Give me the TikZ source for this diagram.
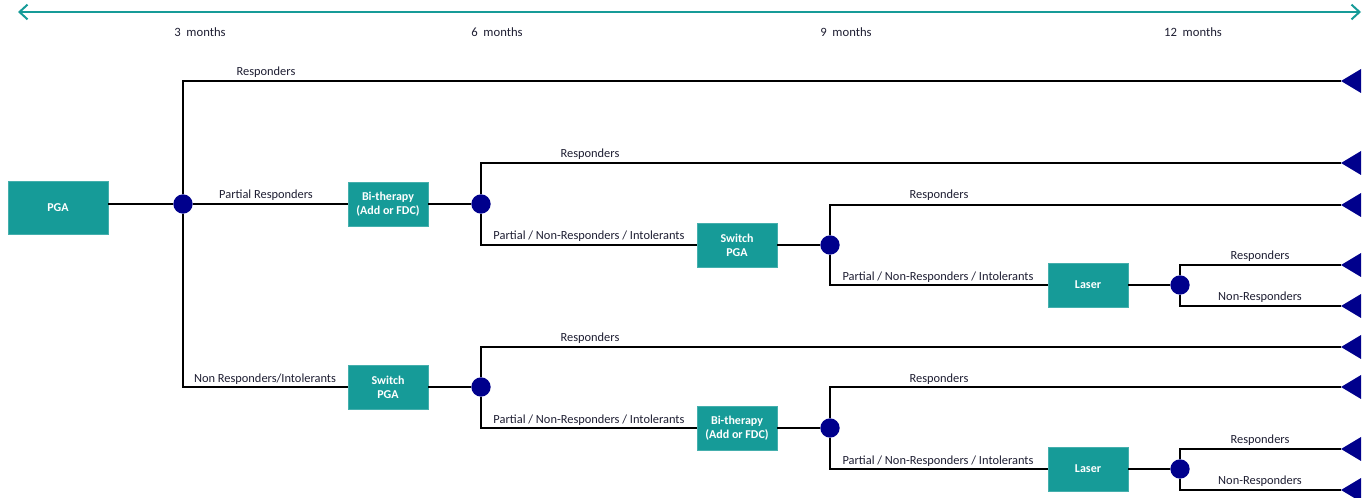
\documentclass[tikz,border=0pt]{standalone}
\usepackage{fontspec}
\setmainfont{Carlito}
\usetikzlibrary{arrows.meta}
\definecolor{tealbox}{RGB}{22,155,152}
\definecolor{navyc}{RGB}{0,0,140}
\definecolor{txtc}{RGB}{30,30,50}
\begin{document}
\begin{tikzpicture}[x=0.75pt,y=-0.75pt,
  box/.style={draw=tealbox!80!white,line width=0.6pt,fill=tealbox,text=white,font=\bfseries\fontsize{9}{10.5}\selectfont,align=center,inner sep=0pt,minimum width=60pt,minimum height=33pt},
  dot/.style={circle,fill=navyc,inner sep=0pt,minimum size=14.5pt},
  conn/.style={draw=black,line width=1.7pt},
  lbl/.style={font=\fontsize{9.3}{10}\selectfont,text=txtc,inner sep=0pt},
  mon/.style={font=\fontsize{9.5}{10}\selectfont,text=txtc,inner sep=0pt},
  tri/.style={fill=navyc}]
\useasboundingbox (0,0) rectangle (1364,498);
% time axis
\coordinate (tl) at (18,12);
\coordinate (tr) at (1361,12);
\draw[draw=tealbox,line width=1.5pt,{Straight Barb[length=6pt,width=11pt]}-{Straight Barb[length=6pt,width=11pt]}] (tl) -- (tr);
\node[mon] (m3) at (200,32) {3~ months};
\node[mon] (m6) at (497,32) {6~ months};
\node[mon] (m9) at (846,32) {9~ months};
\node[mon] (m12) at (1193,32) {12~ months};
% boxes
\node[box,minimum width=75pt,minimum height=40pt] (pga) at (58,208) {PGA};
\node[box] (bi1) at (388,204) {Bi-therapy\\(Add or FDC)};
\node[box] (sw1) at (737,245) {Switch\\PGA};
\node[box] (las1) at (1088,285) {Laser};
\node[box] (sw2) at (388,387) {Switch\\PGA};
\node[box] (bi2) at (737,428) {Bi-therapy\\(Add or FDC)};
\node[box] (las2) at (1088,469) {Laser};
% decision dots
\node[dot] (n1) at (183,204) {};
\node[dot] (n2) at (481,204) {};
\node[dot] (n3) at (830,245) {};
\node[dot] (n4) at (1180,285) {};
\node[dot] (n5) at (481,387) {};
\node[dot] (n6) at (830,428) {};
\node[dot] (n7) at (1180,469) {};
% end points
\foreach \i/\y in {1/81,2/163,3/205,4/265,5/306,6/347,7/387,8/449,9/490}{
  \coordinate (e\i) at (1341,\y);
  \fill[tri] (e\i) -- ++(20,-12) -- ++(0,24) -- cycle;
}
% connectors
\draw[conn] (n1 -| pga.east) -- (n1);
\draw[conn] (n1) |- (e1);
\draw[conn] (n1) -- (bi1);
\draw[conn] (n1) |- (sw2);
\draw[conn] (bi1) -- (n2);
\draw[conn] (n2) |- (e2);
\draw[conn] (n2) |- (sw1);
\draw[conn] (sw1) -- (n3);
\draw[conn] (n3) |- (e3);
\draw[conn] (n3) |- (las1);
\draw[conn] (las1) -- (n4);
\draw[conn] (n4) |- (e4);
\draw[conn] (n4) |- (e5);
\draw[conn] (sw2) -- (n5);
\draw[conn] (n5) |- (e6);
\draw[conn] (n5) |- (bi2);
\draw[conn] (bi2) -- (n6);
\draw[conn] (n6) |- (e7);
\draw[conn] (n6) |- (las2);
\draw[conn] (las2) -- (n7);
\draw[conn] (n7) |- (e8);
\draw[conn] (n7) |- (e9);
% labels
\node[lbl] at (266,72) {Responders};
\node[lbl] at (266,195) {Partial Responders};
\node[lbl] at (265,379) {Non Responders/Intolerants};
\node[lbl] at (590,154) {Responders};
\node[lbl] at (589,236) {Partial / Non-Responders / Intolerants};
\node[lbl] at (939,195) {Responders};
\node[lbl] at (938,277) {Partial / Non-Responders / Intolerants};
\node[lbl] at (1260,256) {Responders};
\node[lbl] at (1260,297) {Non-Responders};
\node[lbl] at (590,338) {Responders};
\node[lbl] at (589,420) {Partial / Non-Responders / Intolerants};
\node[lbl] at (939,379) {Responders};
\node[lbl] at (938,461) {Partial / Non-Responders / Intolerants};
\node[lbl] at (1260,440) {Responders};
\node[lbl] at (1260,481) {Non-Responders};
\end{tikzpicture}
\end{document}
